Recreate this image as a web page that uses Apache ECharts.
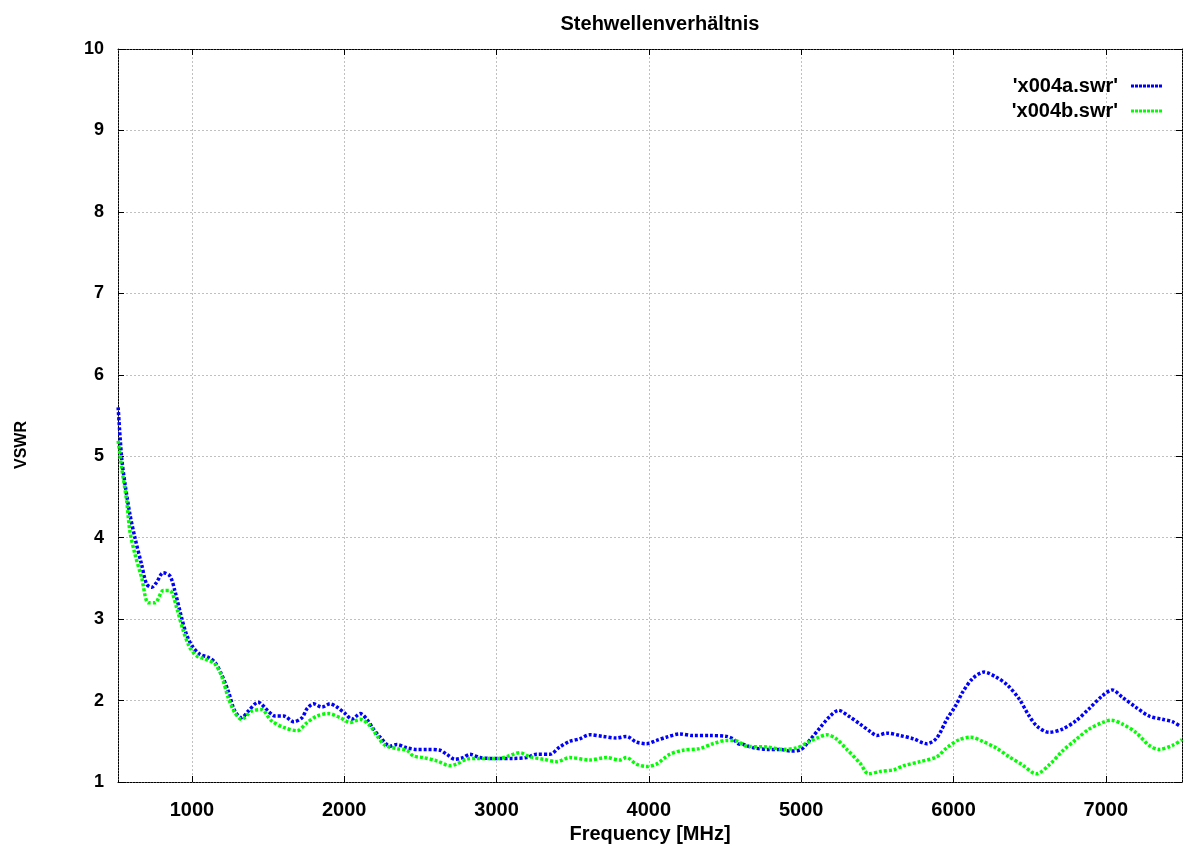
<!DOCTYPE html>
<html>
<head>
<meta charset="utf-8">
<script src="https://cdn.jsdelivr.net/npm/echarts@6/dist/echarts.min.js"></script>
<style>html,body{margin:0;padding:0;background:#fff}#c{width:1184px;height:849px}</style>
</head>
<body>
<div id="c"></div>
<script>
const titleText = 'Stehwellenverhältnis';
const xName = 'Frequency [MHz]';
const yName = 'VSWR';
const seriesNames = ["'x004a.swr'", "'x004b.swr'"];

const freqA = [516,539,561,593,626,670,703,736,768,812,856,888,932,965,1002,1052,1107,1151,1195,1238,1282,1326,1370,1435,1501,1545,
  1603,1668,1723,1756,1799,1854,1908,1952,2007,2050,2105,2149,2192,2236,2301,2345,2411,2476,2542,2629,2673,2727,2781,2825,2891,2956,3017,
  3109,3196,3262,3350,3415,3481,3546,3612,3700,3787,3853,3918,3984,4050,4115,4203,4290,4400,4510,4553,4586,
  4622,4688,4775,4862,4928,5000,5059,5125,5190,5245,5311,5387,5453,5497,5562,5650,5737,5825,5890,5956,6015,
  6059,6125,6201,6278,6354,6431,6497,6551,6628,6715,6803,6890,6978,7043,7109,7196,7284,7371,7437,7492];
const vswrA = [5.60,4.98,4.66,4.29,4.00,3.67,3.43,3.39,3.45,3.57,3.53,3.35,3.02,2.81,2.67,2.57,2.53,2.47,2.32,2.12,1.87,1.79,1.87,1.98,1.87,1.81,
  1.81,1.74,1.79,1.90,1.96,1.92,1.96,1.92,1.84,1.77,1.84,1.77,1.65,1.55,1.44,1.46,1.42,1.40,1.40,1.39,1.34,1.28,1.30,1.34,1.30,1.29,1.29,
  1.29,1.30,1.34,1.34,1.43,1.50,1.53,1.58,1.56,1.54,1.56,1.49,1.47,1.51,1.55,1.59,1.57,1.57,1.56,1.53,1.47,
  1.46,1.42,1.40,1.40,1.38,1.40,1.52,1.67,1.81,1.88,1.81,1.71,1.62,1.57,1.60,1.57,1.53,1.47,1.54,1.77,1.94,
  2.10,2.27,2.35,2.29,2.19,2.02,1.81,1.68,1.61,1.65,1.75,1.90,2.06,2.13,2.04,1.92,1.81,1.77,1.74,1.68];

const freqB = [516,539,572,593,626,670,714,758,812,856,900,943,987,1031,1085,1151,1195,1238,1282,1326,1392,1457,1523,
  1603,1690,1756,1821,1897,1974,2039,2105,2170,2214,2268,2345,2411,2454,2519,2607,2694,2738,2803,2869,2956,3017,
  3066,3153,3219,3306,3393,3481,3612,3721,3809,3853,3918,3984,4050,4137,4225,4334,4421,4509,4564,
  4643,4775,4884,4972,5037,5103,5168,5223,5300,5387,5442,5519,5606,5672,5781,5890,5956,
  6037,6114,6190,6278,6365,6452,6544,6628,6715,6803,6890,6978,7033,7109,7196,7284,7350,7437,7500];
const vswrB = [5.19,4.86,4.45,4.08,3.80,3.51,3.20,3.20,3.35,3.35,3.14,2.86,2.65,2.55,2.51,2.45,2.30,2.04,1.85,1.77,1.87,1.89,1.75,
  1.67,1.63,1.73,1.81,1.84,1.79,1.73,1.77,1.69,1.57,1.45,1.41,1.39,1.32,1.30,1.26,1.20,1.22,1.28,1.29,1.29,1.29,
  1.31,1.36,1.31,1.28,1.25,1.30,1.27,1.30,1.27,1.30,1.22,1.19,1.22,1.34,1.39,1.41,1.47,1.51,1.51,
  1.44,1.43,1.40,1.42,1.48,1.54,1.58,1.54,1.40,1.23,1.10,1.13,1.15,1.20,1.25,1.31,1.42,
  1.52,1.55,1.50,1.42,1.31,1.21,1.10,1.21,1.38,1.52,1.65,1.73,1.76,1.71,1.61,1.45,1.40,1.45,1.52];

const xTicks = [1000,2000,3000,4000,5000,6000,7000];
const yTicks = [1,2,3,4,5,6,7,8,9,10];

const pair = (xs, ys) => xs.map((x, i) => [x, ys[i]]);
const font = 'Liberation Sans, Arial, sans-serif';
const chart = echarts.init(document.getElementById('c'), null, {renderer: 'canvas'});
const borderStyle = {color: '#000', width: 1, type: [2, 1]};
const gridLine = {show: true, lineStyle: {color: '#c0c0c0', width: 1, type: [2, 2]}};
const xMin = 515, xMax = 7500;
// dotted legend sample
let dots = '';
for (let i = 0; i < 8; i++) dots += 'M' + (i * 4) + ',0h3v3h-3z';
const dotIcon = 'path://' + dots;

chart.setOption({
  animation: false,
  backgroundColor: '#fff',
  title: {
    text: titleText, left: 655, top: 9, textAlign: 'center',
    textStyle: {fontFamily: font, fontWeight: 'bold', fontSize: 20, color: '#000'}
  },
  graphic: [{
    type: 'text', x: 22, y: 445, rotation: Math.PI / 2,
    style: {text: yName, fontFamily: font, fontWeight: 'bold', fontSize: 16, fill: '#000',
      align: 'center', verticalAlign: 'middle'}
  }],
  legend: {
    orient: 'vertical', right: 17, top: 71, align: 'right', itemGap: 5,
    itemWidth: 31, itemHeight: 3,
    textStyle: {fontFamily: font, fontWeight: 'bold', fontSize: 20, color: '#000', padding: [0, 8, 0, 0]},
    data: seriesNames.map(n => ({name: n, icon: dotIcon}))
  },
  grid: {left: 118, right: 2, top: 49, bottom: 67, containLabel: false, outerBoundsMode: 'none'},
  xAxis: [{
    type: 'value', min: xMin, max: xMax,
    name: xName, nameLocation: 'middle', nameGap: 42,
    nameTextStyle: {fontFamily: font, fontWeight: 'bold', fontSize: 20, color: '#000'},
    axisLine: {show: true, lineStyle: borderStyle},
    axisTick: {show: true, inside: true, length: 6, customValues: xTicks, lineStyle: {color: '#000'}},
    axisLabel: {customValues: xTicks, margin: 18, fontFamily: font, fontWeight: 'bold', fontSize: 20, color: '#000',
      formatter: v => String(v)},
    splitLine: gridLine
  }, {
    type: 'value', min: xMin, max: xMax, position: 'top',
    axisLine: {show: true, lineStyle: borderStyle},
    axisTick: {show: true, inside: true, length: 6, customValues: xTicks, lineStyle: {color: '#000'}},
    axisLabel: {show: false}, splitLine: {show: false}
  }],
  yAxis: [{
    type: 'value', min: 1, max: 10, interval: 1,
    axisLine: {show: true, lineStyle: borderStyle},
    axisTick: {show: true, inside: true, length: 6, lineStyle: {color: '#000'}},
    axisLabel: {margin: 14, padding: [6, 0, 0, 0], fontFamily: font, fontWeight: 'bold', fontSize: 18, color: '#000',
      formatter: v => yTicks.includes(v) ? String(v) : ''},
    splitLine: gridLine
  }, {
    type: 'value', min: 1, max: 10, interval: 1, position: 'right',
    axisLine: {show: true, lineStyle: borderStyle},
    axisTick: {show: true, inside: true, length: 6, lineStyle: {color: '#000'}},
    axisLabel: {show: false}, splitLine: {show: false}
  }],
  series: [{
    name: seriesNames[0], type: 'line', data: pair(freqA, vswrA), smooth: 0.3,
    showSymbol: false, symbol: 'none', color: '#0000ff',
    lineStyle: {color: '#0000ff', width: 3.5, type: [3, 2]}
  }, {
    name: seriesNames[1], type: 'line', data: pair(freqB, vswrB), smooth: 0.3,
    showSymbol: false, symbol: 'none', color: '#00ff00',
    lineStyle: {color: '#00ff00', width: 3.5, type: [3, 2]}
  }]
});
</script>
</body>
</html>
